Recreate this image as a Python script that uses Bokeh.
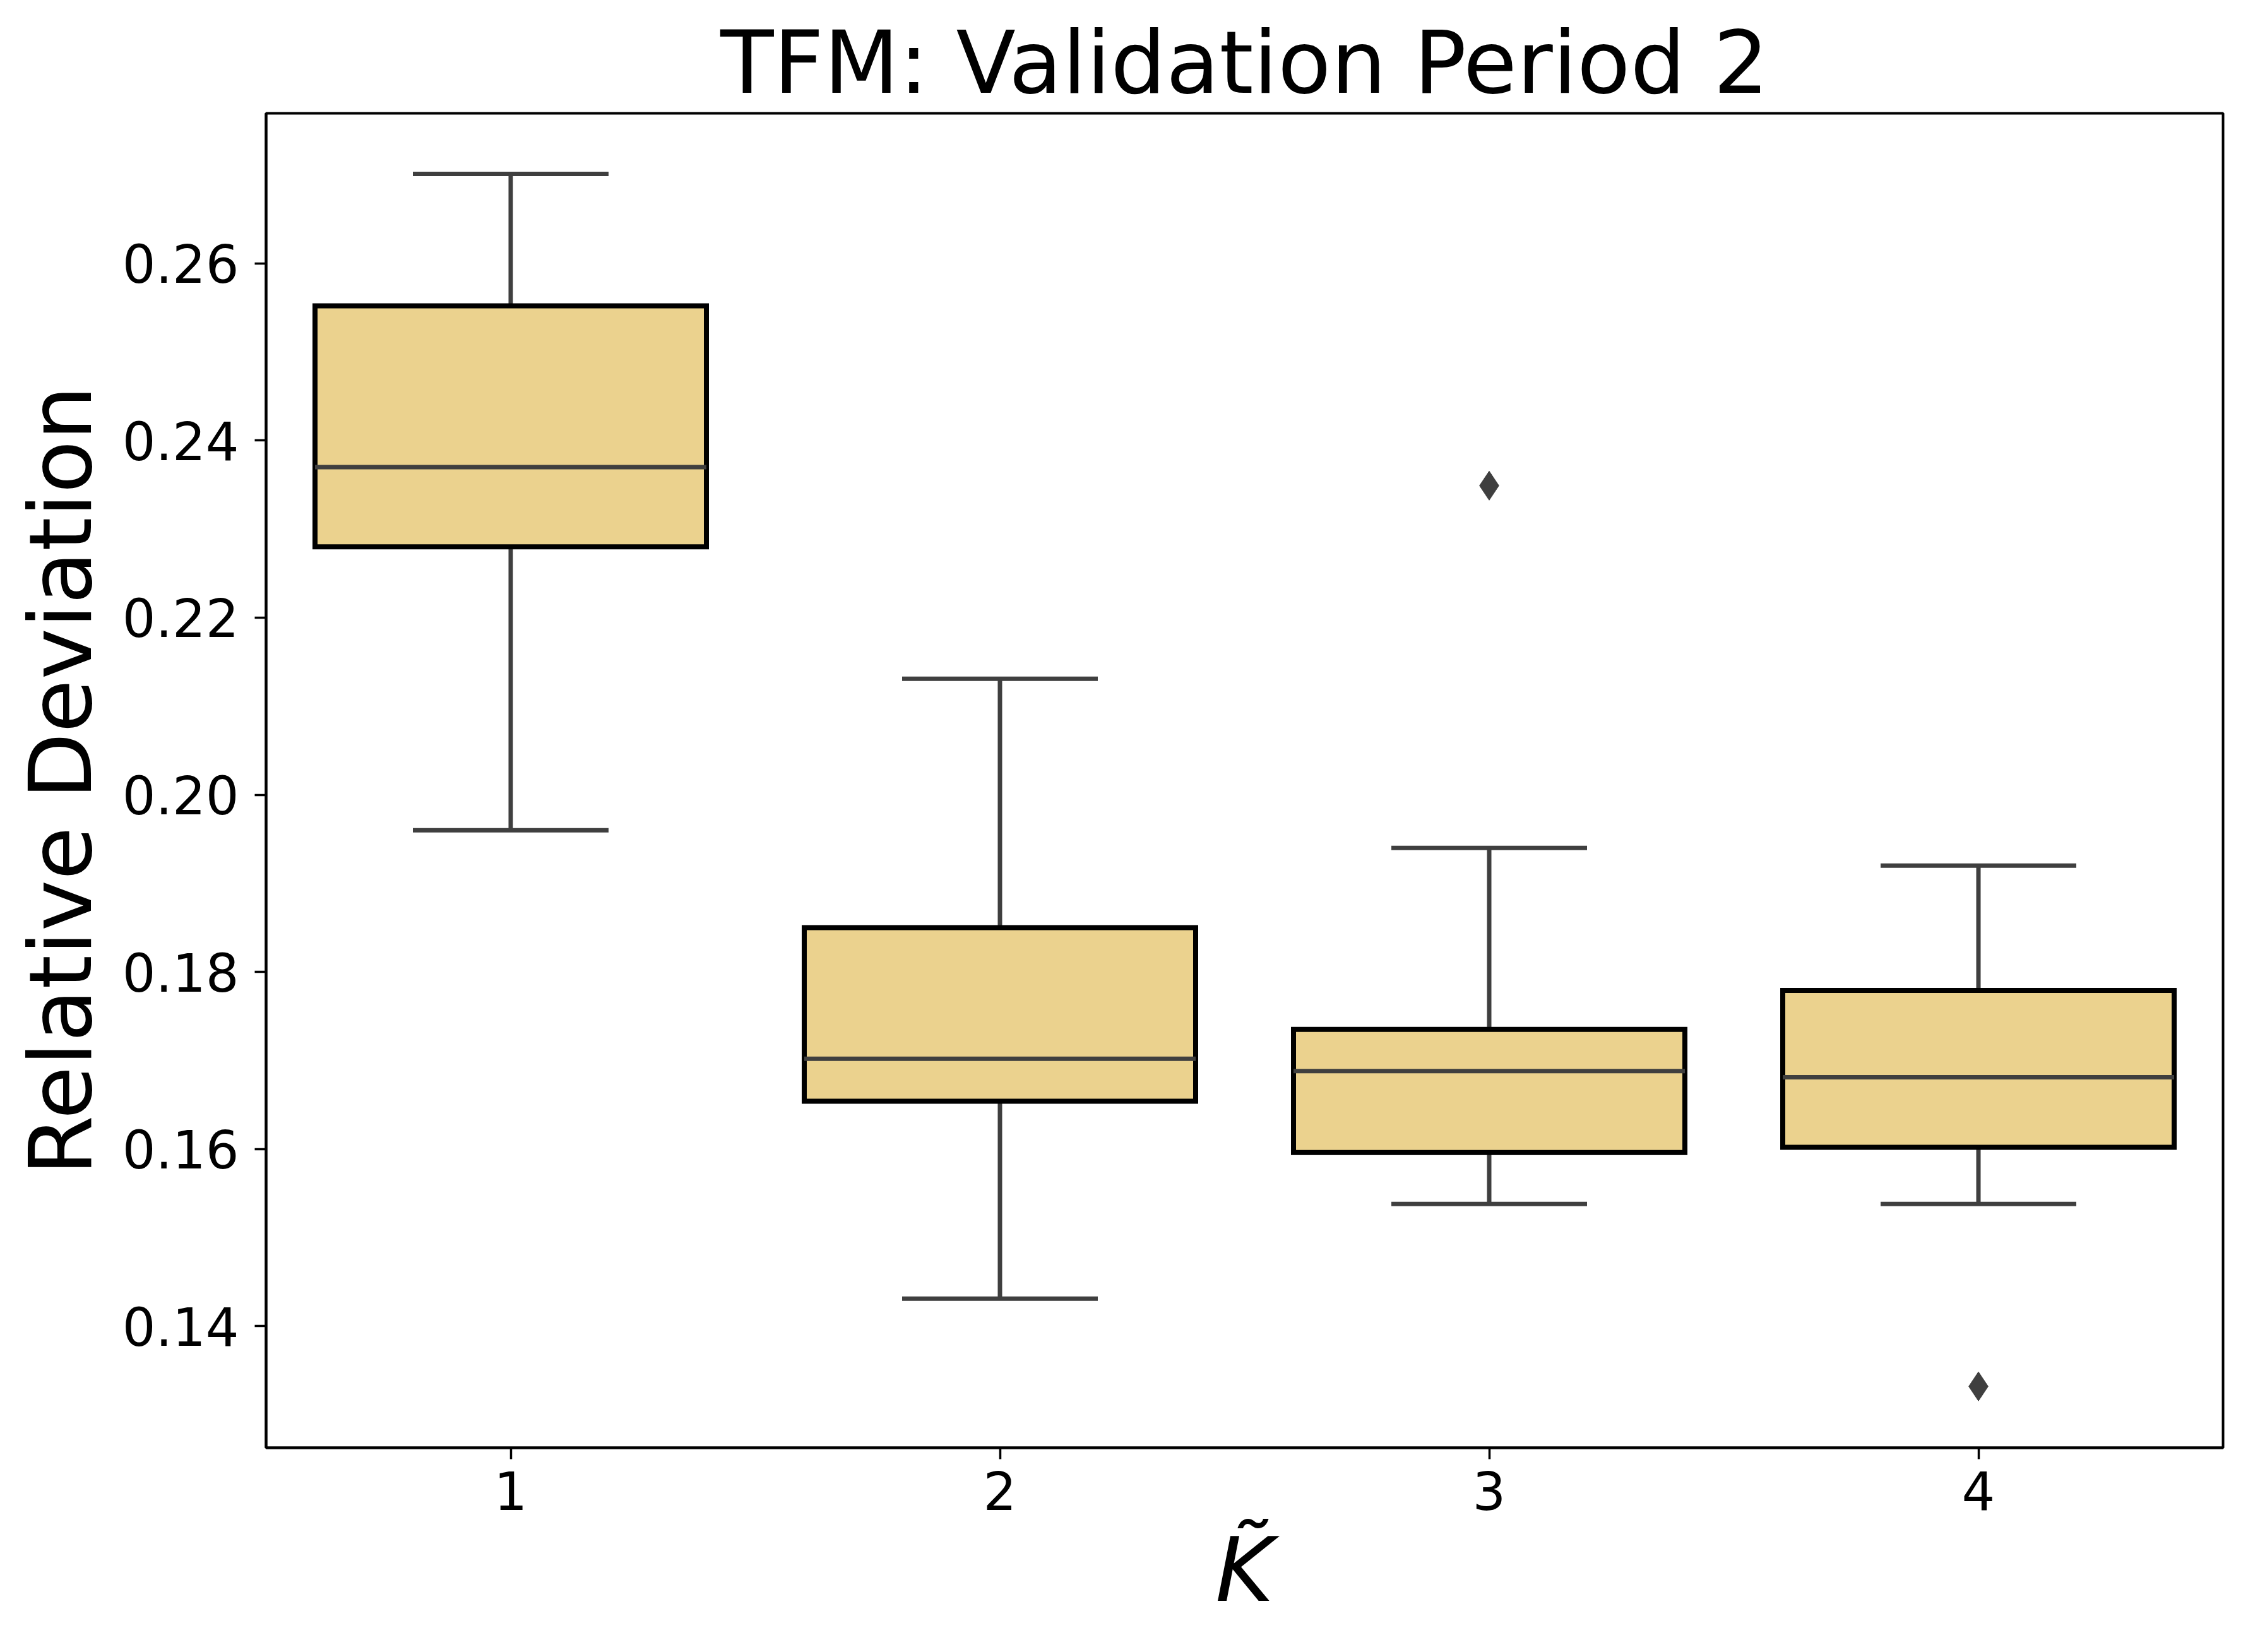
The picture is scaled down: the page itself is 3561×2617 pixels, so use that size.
from bokeh.plotting import figure
from bokeh.models import Range1d, FixedTicker, NumeralTickFormatter, ColumnDataSource
from bokeh.embed import file_html
from bokeh.resources import INLINE

# ---- data ----
categories = ["1", "2", "3", "4"]
whisker_low = [0.1960, 0.1431, 0.1538, 0.1538]
q1 = [0.2280, 0.1654, 0.1596, 0.1602]
median = [0.2370, 0.1702, 0.1688, 0.1681]
q3 = [0.2552, 0.1850, 0.1735, 0.1779]
whisker_high = [0.2701, 0.2131, 0.1940, 0.1920]
outlier_category = ["3", "4"]
outlier_value = [0.2349, 0.1332]
y_ticks = [0.14, 0.16, 0.18, 0.20, 0.22, 0.24, 0.26]

title_text = "TFM: Validation Period 2"
x_label = "K\u0303"
y_label = "Relative Deviation"

# ---- styling ----
FONT = "DejaVu Sans"
BOX_FILL = "#ebd28e"
LINE_GRAY = "#3f3f3f"
BOX_WIDTH = 0.8
CAP_WIDTH = 0.4

pos = list(range(len(categories)))
opos = [categories.index(c) for c in outlier_category]

src = ColumnDataSource(dict(
    x=pos, lo=whisker_low, q1=q1, med=median, q3=q3, hi=whisker_high,
    bl=[p_ - BOX_WIDTH / 2 for p_ in pos], br=[p_ + BOX_WIDTH / 2 for p_ in pos],
    cl=[p_ - CAP_WIDTH / 2 for p_ in pos], cr=[p_ + CAP_WIDTH / 2 for p_ in pos],
))

p = figure(width=3545, height=2600, output_backend="svg", toolbar_location=None,
           x_range=Range1d(-0.5, 3.5), y_range=Range1d(0.12627, 0.27694),
           min_border_left=421, min_border_right=24, min_border_top=179,
           min_border_bottom=307)

p.background_fill_color = "white"
p.border_fill_color = "white"
p.xgrid.visible = False
p.ygrid.visible = False
p.outline_line_color = "black"
p.outline_line_width = 4

# whiskers
p.segment(x0="x", y0="q3", x1="x", y1="hi", source=src, line_color=LINE_GRAY, line_width=7)
p.segment(x0="x", y0="lo", x1="x", y1="q1", source=src, line_color=LINE_GRAY, line_width=7)
# caps
p.segment(x0="cl", y0="hi", x1="cr", y1="hi", source=src, line_color=LINE_GRAY, line_width=7)
p.segment(x0="cl", y0="lo", x1="cr", y1="lo", source=src, line_color=LINE_GRAY, line_width=7)
# boxes
p.vbar(x="x", width=BOX_WIDTH, bottom="q1", top="q3", source=src,
       fill_color=BOX_FILL, line_color="black", line_width=8, line_join="miter")
# medians
p.segment(x0="bl", y0="med", x1="br", y1="med", source=src, line_color=LINE_GRAY, line_width=7)
# outliers
p.scatter(x=opos, y=outlier_value, marker="diamond", size=46,
          fill_color=LINE_GRAY, line_color=LINE_GRAY)

# title
p.title.text = title_text
p.title.align = "center"
p.title.text_font = FONT
p.title.text_font_size = "138px"
p.title.text_font_style = "normal"
p.title.text_color = "black"
p.title.standoff = 0

# axes
for ax in (p.xaxis[0], p.yaxis[0]):
    ax.axis_line_color = "black"
    ax.axis_line_width = 4
    ax.major_tick_line_color = "black"
    ax.major_tick_line_width = 3.5
    ax.major_tick_in = 0
    ax.major_tick_out = 18
    ax.minor_tick_line_color = None
    ax.major_label_text_font = FONT
    ax.major_label_text_font_size = "83px"
    ax.major_label_text_color = "black"
    ax.axis_label_text_font = FONT
    ax.axis_label_text_color = "black"

p.xaxis.ticker = FixedTicker(ticks=pos)
p.xaxis.major_label_overrides = {i: c for i, c in zip(pos, categories)}
p.xaxis.major_label_standoff = 18
p.xaxis.axis_label = x_label
p.xaxis.axis_label_text_font_size = "141px"
p.xaxis.axis_label_text_font_style = "italic"
p.xaxis.axis_label_standoff = 10

p.yaxis.ticker = FixedTicker(ticks=y_ticks)
p.yaxis.formatter = NumeralTickFormatter(format="0.00")
p.yaxis.major_label_standoff = 25
p.yaxis.axis_label = y_label
p.yaxis.axis_label_text_font_size = "137px"
p.yaxis.axis_label_text_font_style = "normal"
p.yaxis.axis_label_standoff = 15

open("out.html", "w").write(file_html(p, INLINE))
